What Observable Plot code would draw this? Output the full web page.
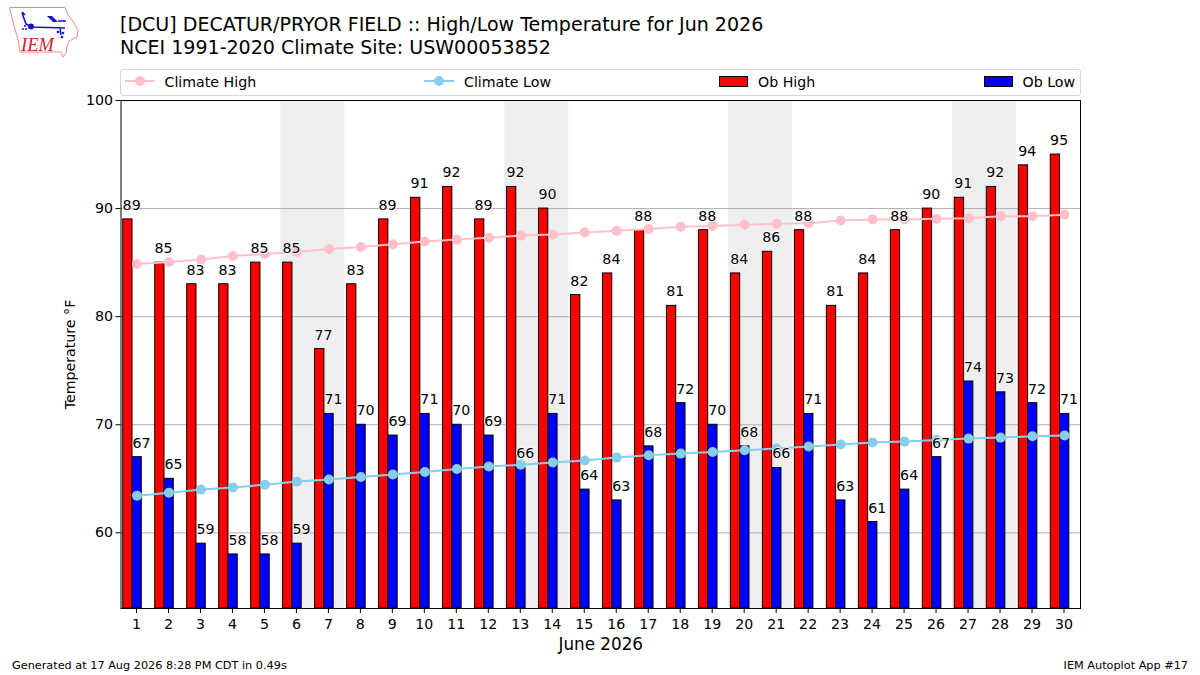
<!DOCTYPE html>
<html>
<head>
<meta charset="utf-8">
<script src="https://cdn.jsdelivr.net/npm/d3@7"></script>
<script src="https://cdn.jsdelivr.net/npm/@observablehq/plot@0.6"></script>
<style>
html,body{margin:0;padding:0;background:#fff;}
#page{position:relative;width:1200px;height:675px;overflow:hidden;font-family:"DejaVu Sans",sans-serif;color:#000;}
#page svg.chart{position:absolute;left:0;top:0;}
.t{position:absolute;white-space:nowrap;line-height:1;}
#legend{position:absolute;left:120px;top:69px;width:958.5px;height:25px;border:1px solid #d6d6d6;border-radius:3px;background:#fff;}
</style>
</head>
<body>
<div id="page">
  <svg id="logo" width="90" height="65" viewBox="0 0 90 65" style="position:absolute;left:0;top:0">
    <path d="M9.5 7.5 L65 7.5 L68 15 L73 21 L78 30 L77 37 L69 41 L67 46 L66 53 L63 57 L61 52 L20 52 L18 40 L13 22 Z" fill="none" stroke="#ee8a8f" stroke-width="1"/>
    <path d="M31 27 L65 28 M22 13 L26 24 L31 27 M58 21 L66 21 M60 28 L61 35 M22 12 L25 15" fill="none" stroke="#1414c8" stroke-width="1.6"/>
    <circle cx="31" cy="26.5" r="3" fill="#1414c8"/>
    <path d="M47 16 L52 16 L58 22 L53 22 Z" fill="#1414c8"/>
    <circle cx="58" cy="32" r="1.3" fill="#1414c8"/><circle cx="63" cy="33" r="1.3" fill="#1414c8"/><circle cx="62" cy="37" r="1.3" fill="#1414c8"/>
    <circle cx="25" cy="26" r="1" fill="#1414c8"/><circle cx="23" cy="29" r="1" fill="#1414c8"/><circle cx="26" cy="29" r="1" fill="#1414c8"/>
    <text x="21" y="51" font-family="Liberation Serif" font-style="italic" font-size="18.5" fill="#cc2233">IEM</text>
  </svg>
  <div class="t" id="title1" style="left:120px;top:14.5px;font-size:19.05px">[DCU] DECATUR/PRYOR FIELD :: High/Low Temperature for Jun 2026</div>
  <div class="t" id="title2" style="left:120px;top:38px;font-size:19.05px">NCEI 1991-2020 Climate Site: USW00053852</div>
  <div id="legend"></div>
  <div class="t" style="left:12px;top:660px;font-size:11.27px">Generated at 17 Aug 2026 8:28 PM CDT in 0.49s</div>
  <div class="t" style="right:12px;top:660px;font-size:11.27px">IEM Autoplot App #17</div>
</div>
<script>
const days = d3.range(1, 31);
const obHigh = [89,85,83,83,85,85,77,83,89,91,92,89,92,90,82,84,88,81,88,84,86,88,81,84,88,90,91,92,94,95];
const obLow = [67,65,59,58,58,59,71,70,69,71,70,69,66,71,64,63,68,72,70,68,66,71,63,61,64,67,74,73,72,71];
const climateHigh = [84.88,85.06,85.28,85.62,85.8,85.99,86.27,86.45,86.7,86.95,87.13,87.3,87.5,87.6,87.78,87.94,88.1,88.33,88.4,88.5,88.6,88.65,88.9,89.0,89.0,89.05,89.1,89.3,89.3,89.44];
const climateLow = [63.44,63.72,64.0,64.2,64.46,64.74,64.93,65.17,65.39,65.63,65.9,66.13,66.31,66.5,66.69,66.96,67.18,67.33,67.48,67.64,67.8,67.98,68.17,68.35,68.44,68.59,68.72,68.81,68.94,69.0];
const weekendStarts = [6, 13, 20, 27];
const yGrid = [60, 70, 80, 90];
const yTicks = [60, 70, 80, 90, 100];
const yMin = 53, yMax = 100;

const table = days.map((day, i) => ({day, high: obHigh[i], low: obLow[i], chigh: climateHigh[i], clow: climateLow[i]}));
const FONT = "DejaVu Sans";
const halo = {stroke: "white", strokeWidth: 1.5, fill: "black", fontSize: 14.2, textAnchor: "start", lineAnchor: "bottom", dy: -9.5};

const chart = Plot.plot({
  width: 1200, height: 675,
  marginLeft: 120.5, marginRight: 120, marginTop: 100, marginBottom: 67,
  style: {fontFamily: FONT, background: "transparent"},
  x: {type: "linear", domain: [0.5, 30.5]},
  y: {domain: [yMin, yMax]},
  marks: [
    Plot.rect(weekendStarts, {x1: d => d - 0.5, x2: d => d + 1.5, y1: yMin, y2: yMax, fill: "#eeeeee"}),
    Plot.ruleY(yGrid, {stroke: "#b0b0b0", strokeWidth: 1}),
    Plot.rect(table, {x1: d => d.day - 0.43, x2: d => d.day - 0.14, y1: yMin, y2: "high", fill: "red", stroke: "black", strokeWidth: 1}),
    Plot.rect(table, {x1: d => d.day - 0.14, x2: d => d.day + 0.15, y1: yMin, y2: "low", fill: "blue", stroke: "black", strokeWidth: 1}),
    Plot.line(table, {x: "day", y: "chigh", stroke: "#ffc0cb", strokeWidth: 2}),
    Plot.dot(table, {x: "day", y: "chigh", fill: "#ffc0cb", r: 5}),
    Plot.line(table, {x: "day", y: "clow", stroke: "#87ceeb", strokeWidth: 2}),
    Plot.dot(table, {x: "day", y: "clow", fill: "#87ceeb", r: 5}),
    Plot.text(table, {x: d => d.day - 0.45, y: "high", text: d => String(d.high), ...halo}),
    Plot.text(table, {x: d => d.day - 0.14, y: "low", text: d => String(d.low), ...halo}),
    Plot.axisX({ticks: days, tickFormat: d => String(d), tickSize: 5, tickPadding: 5, fontSize: 14.2, label: null, stroke: "black", dx: -0.5}),
    Plot.axisY({ticks: yTicks, tickSize: 5, tickPadding: 3, fontSize: 14.2, label: "Temperature °F", labelAnchor: "center", labelArrow: "none", labelOffset: 56, stroke: "black"}),
    Plot.text(["June 2026"], {frameAnchor: "bottom", dy: 41, fontSize: 16.8, fill: "black"}),
    Plot.frame({stroke: "black", strokeWidth: 1})
  ]
});
chart.classList.add("chart");
document.getElementById("page").prepend(chart);

// legend
const legendItems = [
  {label: "Climate High", kind: "line", color: "#ffc0cb", x: 4, tx: 43.5},
  {label: "Climate Low", kind: "line", color: "#87ceeb", x: 303, tx: 343},
  {label: "Ob High", kind: "bar", color: "red", x: 598, tx: 637},
  {label: "Ob Low", kind: "bar", color: "blue", x: 863, tx: 901.5}
];
const lg = document.getElementById("legend");
for (const it of legendItems) {
  const s = d3.create("svg").attr("width", 30).attr("height", 14)
    .style("position", "absolute").style("left", it.x + "px").style("top", "5px");
  if (it.kind === "line") {
    s.append("line").attr("x1", 0).attr("x2", 30).attr("y1", 6).attr("y2", 6).attr("stroke", it.color).attr("stroke-width", 2);
    s.append("circle").attr("cx", 15).attr("cy", 6).attr("r", 5).attr("fill", it.color);
  } else {
    s.append("rect").attr("x", .5).attr("y", 1.5).attr("width", 28).attr("height", 10).attr("fill", it.color).attr("stroke", "black");
  }
  lg.append(s.node());
  const t = document.createElement("div");
  t.className = "t"; t.textContent = it.label;
  t.style.cssText = `left:${it.tx}px;top:4.5px;font-size:14.2px`;
  lg.append(t);
}
</script>
</body>
</html>
